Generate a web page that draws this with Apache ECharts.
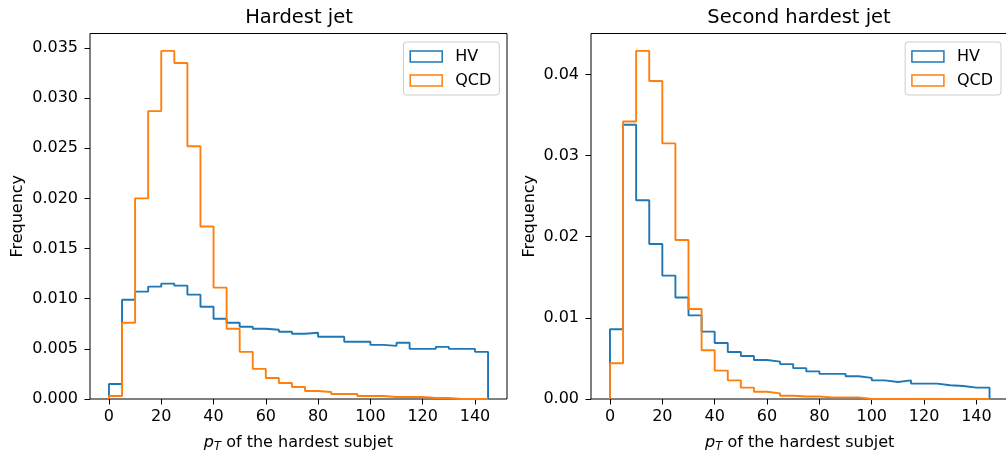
<!DOCTYPE html>
<html>
<head>
<meta charset="utf-8">
<script src="https://cdn.jsdelivr.net/npm/echarts@6/dist/echarts.min.js"></script>
<style>
  html, body { margin: 0; padding: 0; background: #fff; }
  #chart { width: 1006px; height: 455px; }
</style>
</head>
<body>
<div id="chart"></div>
<script>
// Histogram binning: 29 bins of width 5 starting at 0
const binStart = 0;
const binWidth = 5;

// Hardest jet: normalised subjet pT distributions
const hvHardest = [
  0.0015, 0.0099, 0.0107, 0.0112, 0.0115, 0.0113, 0.0104, 0.0092, 0.0080, 0.0076,
  0.0072, 0.0070, 0.0069, 0.0067, 0.0065, 0.0066, 0.0062, 0.0062, 0.0057, 0.0057,
  0.0054, 0.0053, 0.0056, 0.0050, 0.0050, 0.0052, 0.0050, 0.0050, 0.0047
];
const qcdHardest = [
  0.0003, 0.0076, 0.0200, 0.0287, 0.0347, 0.0335, 0.0252, 0.0172, 0.0111, 0.0070,
  0.0047, 0.0030, 0.0021, 0.0016, 0.0012, 0.0008, 0.0007, 0.0005, 0.0005, 0.0003,
  0.0003, 0.0002, 0.0002, 0.0002, 0.0001, 0.0001, 0.0000, 0.0000, 0.0000
];

// Second hardest jet
const hvSecond = [
  0.0086, 0.0338, 0.0245, 0.0191, 0.0152, 0.0125, 0.0103, 0.0083, 0.0069, 0.0058,
  0.0053, 0.0048, 0.0046, 0.0043, 0.0038, 0.0034, 0.0031, 0.0031, 0.0028, 0.0026,
  0.0023, 0.0021, 0.0023, 0.0019, 0.0019, 0.0017, 0.0016, 0.0014, 0.0014
];
const qcdSecond = [
  0.0044, 0.0342, 0.0429, 0.0392, 0.0315, 0.0196, 0.0111, 0.0060, 0.0035, 0.0023,
  0.0014, 0.0009, 0.0007, 0.0004, 0.0003, 0.0003, 0.0002, 0.0002, 0.0002, 0.0000,
  0.0000, 0.0000, 0.0000, 0.0000, 0.0000, 0.0000, 0.0000, 0.0000, 0.0000
];

const seriesNames = ['HV', 'QCD'];
const panelTitles = ['Hardest jet', 'Second hardest jet'];
const xTicks = [0, 20, 40, 60, 80, 100, 120, 140];
const yTicksHardest = [0, 0.005, 0.010, 0.015, 0.020, 0.025, 0.030, 0.035];
const yTicksSecond = [0, 0.01, 0.02, 0.03, 0.04];

const colors = ['#1f77b4', '#ff7f0e'];
const FONT = 'DejaVu Sans';
const FS = 16;

// Step outline of a histogram: rise at the first edge, fall at the last edge
function stepPoints(values) {
  const pts = [[binStart, 0]];
  values.forEach((v, i) => pts.push([binStart + i * binWidth, v]));
  pts.push([binStart + values.length * binWidth, 0]);
  return pts;
}

// Axis limits with 5% padding, like the plotting default
const xLo = binStart, xHi = binStart + hvHardest.length * binWidth;
const xPad = (xHi - xLo) * 0.05;
const yMaxHardest = Math.max(...hvHardest, ...qcdHardest) * 1.05;
const yMaxSecond = Math.max(...hvSecond, ...qcdSecond) * 1.05;

const labelStyle = { fontFamily: FONT, fontSize: FS, color: '#000' };
const tickStyle = { show: true, length: 5.5, lineStyle: { color: '#000', width: 1 } };

function xAxis(gridIndex) {
  return {
    type: 'value', gridIndex, min: xLo - xPad, max: xHi + xPad,
    splitLine: { show: false },
    axisLine: { show: false, onZero: false },
    axisTick: Object.assign({ customValues: xTicks }, tickStyle),
    axisLabel: Object.assign({ customValues: xTicks, margin: 10 }, labelStyle),
    name: '{p|p}{t|T}{r| of the hardest subjet}',
    nameLocation: 'middle', nameGap: 34,
    nameTextStyle: {
      rich: {
        p: { fontFamily: FONT, fontSize: FS, fontStyle: 'italic', color: '#000', lineHeight: 20, verticalAlign: 'middle' },
        t: { fontFamily: FONT, fontSize: 11.5, fontStyle: 'italic', color: '#000', lineHeight: 11, padding: [9, 0, 0, 0], verticalAlign: 'middle' },
        r: { fontFamily: FONT, fontSize: FS, color: '#000', lineHeight: 20, verticalAlign: 'middle' }
      }
    }
  };
}

function yAxis(gridIndex, max, ticks, digits, gap) {
  return {
    type: 'value', gridIndex, min: 0, max,
    splitLine: { show: false },
    axisLine: { show: false, onZero: false },
    axisTick: Object.assign({ customValues: ticks }, tickStyle),
    axisLabel: Object.assign({ customValues: ticks, margin: 12, formatter: v => v.toFixed(digits) }, labelStyle),
    name: 'Frequency', nameLocation: 'middle', nameRotate: 90, nameGap: gap,
    nameTextStyle: { fontFamily: FONT, fontSize: FS, color: '#000' }
  };
}

function legend(right) {
  return {
    orient: 'vertical', right, top: 42,
    backgroundColor: 'rgba(255,255,255,0.8)', borderColor: '#cccccc', borderWidth: 1, borderRadius: 3,
    padding: [6, 8, 6, 6], itemWidth: 32, itemHeight: 11, itemGap: 7,
    icon: 'rect',
    textStyle: { fontFamily: FONT, fontSize: FS, color: '#000', lineHeight: 17, padding: [0, 0, 0, 8] },
    data: seriesNames.map((n, i) => ({
      name: n,
      itemStyle: { color: 'rgba(0,0,0,0)', borderColor: colors[i], borderWidth: 1.5 }
    }))
  };
}

function histSeries(name, values, idx, color) {
  return {
    type: 'line', name, step: 'end', data: stepPoints(values),
    xAxisIndex: idx, yAxisIndex: idx, symbol: 'none', showSymbol: false,
    lineStyle: { color, width: 1.9 }, itemStyle: { color },
    emphasis: { disabled: true }, silent: true
  };
}

const titleStyle = { fontFamily: FONT, fontSize: 19.5, fontWeight: 'normal', color: '#000' };
const gridBase = {
  top: 33.5, bottom: 56, show: true, borderColor: '#000', borderWidth: 1,
  containLabel: false, outerBoundsMode: 'none'
};

const chart = echarts.init(document.getElementById('chart'), null, { renderer: 'canvas' });
chart.setOption({
  animation: false,
  backgroundColor: '#fff',
  title: [
    { text: panelTitles[0], left: 294, top: 3, textAlign: 'center', textStyle: titleStyle },
    { text: panelTitles[1], left: 794, top: 3, textAlign: 'center', textStyle: titleStyle }
  ],
  grid: [
    Object.assign({ left: 90, width: 417 }, gridBase),
    Object.assign({ left: 591, width: 417.5 }, gridBase)
  ],
  xAxis: [xAxis(0), xAxis(1)],
  yAxis: [yAxis(0, yMaxHardest, yTicksHardest, 3, 64), yAxis(1, yMaxSecond, yTicksSecond, 2, 53)],
  legend: [legend(506.7), legend(5)],
  series: [
    histSeries(seriesNames[0], hvHardest, 0, colors[0]),
    histSeries(seriesNames[1], qcdHardest, 0, colors[1]),
    histSeries(seriesNames[0], hvSecond, 1, colors[0]),
    histSeries(seriesNames[1], qcdSecond, 1, colors[1])
  ]
});
</script>
</body>
</html>
